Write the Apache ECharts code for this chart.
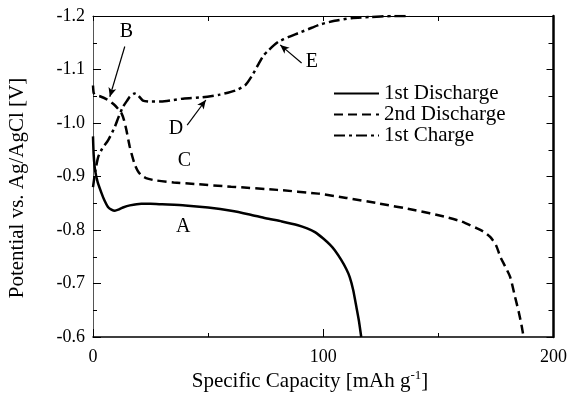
<!DOCTYPE html>
<html>
<head>
<meta charset="utf-8">
<script src="https://cdn.jsdelivr.net/npm/echarts@6/dist/echarts.min.js"></script>
<style>html,body{margin:0;padding:0;background:#fff}#c{width:570px;height:395px}</style>
</head>
<body>
<div id="c"></div>
<script>
// 1st discharge (mAh/g, V)
const discharge1Cap = [0, 0.3, 0.9, 2, 3.7, 5, 6.5, 8, 9.5, 11, 13, 16, 21, 25, 30, 40, 50, 60, 68, 75, 82, 89, 93, 96.4, 100, 103, 105, 107.8, 110, 111.5, 113, 114.4, 115.5, 116.5];
const discharge1V = [-0.975, -0.94, -0.912, -0.89, -0.869, -0.855, -0.843, -0.838, -0.836, -0.838, -0.842, -0.846, -0.849, -0.849, -0.848, -0.846, -0.842, -0.836, -0.829, -0.822, -0.816, -0.809, -0.803, -0.796, -0.784, -0.772, -0.762, -0.744, -0.727, -0.712, -0.688, -0.656, -0.63, -0.6];
// 2nd discharge
const discharge2Cap = [0, 0.3, 1, 3, 6.6, 9, 11, 12.4, 13.5, 14.5, 16, 18, 19.5, 21, 23, 26.7, 35, 44, 60, 80, 97.8, 110, 123.7, 140, 152.5, 160, 166.8, 170, 172.5, 175, 176.9, 179, 181.2, 183.3, 185, 186.2, 187];
const discharge2V = [-1.07, -1.056, -1.052, -1.05, -1.043, -1.035, -1.026, -1.018, -1.005, -0.987, -0.955, -0.924, -0.91, -0.902, -0.897, -0.893, -0.889, -0.886, -0.881, -0.875, -0.868, -0.860, -0.850, -0.837, -0.825, -0.816, -0.803, -0.796, -0.787, -0.772, -0.750, -0.732, -0.712, -0.675, -0.645, -0.62, -0.6];
// 1st charge
const chargeCap = [0, 1, 2.3, 4, 6.6, 9.5, 11, 13, 15, 16, 18, 19.5, 21.7, 25, 29.6, 35, 39.7, 47.4, 55, 62, 66.2, 69, 72, 74, 76.3, 78.5, 80.6, 85, 89.2, 95, 99.3, 105, 112.2, 120, 130, 137.5];
const chargeV = [-0.88, -0.91, -0.937, -0.952, -0.968, -0.993, -1.01, -1.03, -1.043, -1.049, -1.055, -1.052, -1.042, -1.040, -1.040, -1.043, -1.046, -1.048, -1.053, -1.061, -1.071, -1.088, -1.111, -1.126, -1.136, -1.145, -1.152, -1.161, -1.168, -1.178, -1.185, -1.191, -1.196, -1.198, -1.200, -1.200];

const seriesNames = ['1st Discharge', '2nd Discharge', '1st Charge'];
const xTickValues = [0, 100, 200];
const yTickValues = [-1.2, -1.1, -1.0, -0.9, -0.8, -0.7, -0.6];
const xTitle = 'Specific Capacity [mAh g';
const xTitleSup = '-1';
const yTitle = 'Potential vs. Ag/AgCl [V]';

// annotation letters
const letterNames = ['A', 'B', 'C', 'D', 'E'];
const letterCap = [39.2, 14.5, 39.7, 36, 95];
const letterV = [-0.806, -1.17, -0.93, -0.99, -1.115];
// arrows: start -> end (arrow head at end)
const arrowFromCap = [13.8, 40.9, 90.6];
const arrowFromV = [-1.143, -0.996, -1.112];
const arrowToCap = [7.3, 49, 81.3];
const arrowToV = [-1.049, -1.043, -1.146];

const zip = (a, b) => a.map((v, i) => [v, b[i]]);
const FONT = 'Liberation Serif';

const chart = echarts.init(document.getElementById('c'), null, {renderer: 'canvas'});
const lineBase = {type: 'line', symbol: 'none', showSymbol: false, animation: false, xAxisIndex: 0, yAxisIndex: 0};

chart.setOption({
  backgroundColor: '#fff',
  animation: false,
  textStyle: {fontFamily: FONT, color: '#000'},
  grid: {left: 93, top: 16, right: 13, bottom: 58, containLabel: false},
  legend: {
    data: seriesNames,
    orient: 'vertical',
    left: 328, top: 78,
    itemWidth: 45, itemHeight: 14, itemGap: 0,
    itemStyle: {opacity: 0},
    textStyle: {fontFamily: FONT, fontSize: 21, color: '#000', lineHeight: 20},
    selectedMode: false
  },
  graphic: [{
    type: 'text', x: 310, y: 381,
    style: {
      text: '{n|' + xTitle + '}{s|' + xTitleSup + '}{n|]}',
      rich: {
        n: {fontFamily: FONT, fontSize: 21, fill: '#000'},
        s: {fontFamily: FONT, fontSize: 13, fill: '#000', verticalAlign: 'top', padding: [0, 0, 10, 0]}
      },
      align: 'center', verticalAlign: 'middle'
    }
  }, {
    type: 'text', x: 17, y: 188, rotation: Math.PI / 2,
    style: {text: yTitle, fontFamily: FONT, fontSize: 21, fill: '#000', align: 'center', verticalAlign: 'middle'}
  }],
  xAxis: [{
    type: 'value', min: 0, max: 200, interval: 100, position: 'bottom',
    axisLine: {show: true, onZero: false, lineStyle: {color: '#000', width: 1.5}},
    axisTick: {show: true, inside: true, length: 8, lineStyle: {color: '#000', width: 1}},
    minorTick: {show: true, splitNumber: 2, length: 4, lineStyle: {color: '#000', width: 1}},
    axisLabel: {fontFamily: FONT, fontSize: 18, color: '#000', margin: 11},
    splitLine: {show: false}
  }, {
    type: 'value', min: 0, max: 200, interval: 50, position: 'top',
    axisLine: {show: true, onZero: false, lineStyle: {color: '#000', width: 1}},
    axisTick: {show: true, inside: true, length: 5, lineStyle: {color: '#000', width: 1}},
    axisLabel: {show: false}, splitLine: {show: false}
  }],
  yAxis: [{
    type: 'value', min: -1.2, max: -0.6, interval: 0.1, inverse: true, position: 'left',
    axisLine: {show: true, onZero: false, lineStyle: {color: '#555', width: 1}},
    axisTick: {show: true, inside: true, length: 8, lineStyle: {color: '#000', width: 1}},
    minorTick: {show: true, splitNumber: 2, length: 4, lineStyle: {color: '#000', width: 1}},
    axisLabel: {fontFamily: FONT, fontSize: 18, color: '#000', margin: 8, formatter: v => v.toFixed(1)},
    splitLine: {show: false}
  }, {
    type: 'value', min: -1.2, max: -0.6, interval: 0.1, inverse: true, position: 'right',
    axisLine: {show: true, onZero: false, lineStyle: {color: '#000', width: 2.5}},
    axisTick: {show: true, inside: true, length: 7, lineStyle: {color: '#000', width: 1}},
    minorTick: {show: true, splitNumber: 2, length: 5, lineStyle: {color: '#000', width: 1}},
    axisLabel: {show: false}, splitLine: {show: false}
  }],
  series: [
    Object.assign({}, lineBase, {
      name: seriesNames[0], data: zip(discharge1Cap, discharge1V), smooth: 0.2,
      lineStyle: {color: '#000', width: 2.5, type: 'solid'}, itemStyle: {color: '#000'}
    }),
    Object.assign({}, lineBase, {
      name: seriesNames[1], data: zip(discharge2Cap, discharge2V), smooth: 0.2,
      lineStyle: {color: '#000', width: 2.5, type: [9, 5]}, itemStyle: {color: '#000'}
    }),
    Object.assign({}, lineBase, {
      name: seriesNames[2], data: zip(chargeCap, chargeV), smooth: 0.2,
      lineStyle: {color: '#000', width: 2.5, type: [11, 4, 3, 4]}, itemStyle: {color: '#000'},
      markLine: {
        silent: true, animation: false,
        symbol: ['none', 'arrow'], symbolSize: [6, 9],
        lineStyle: {color: '#000', width: 1.2, type: 'solid'},
        label: {show: false},
        data: arrowFromCap.map((c, i) => [{coord: [c, arrowFromV[i]]}, {coord: [arrowToCap[i], arrowToV[i]]}])
      }
    }),
    {
      type: 'scatter', name: 'letters', silent: true, animation: false,
      symbolSize: 0,
      itemStyle: {opacity: 1, color: '#000'},
      data: letterNames.map((n, i) => ({name: n, value: [letterCap[i], letterV[i]]})),
      label: {show: true, position: 'inside', formatter: '{b}', fontFamily: FONT, fontSize: 20, color: '#000', opacity: 1}
    }
  ]
});
</script>
</body>
</html>
